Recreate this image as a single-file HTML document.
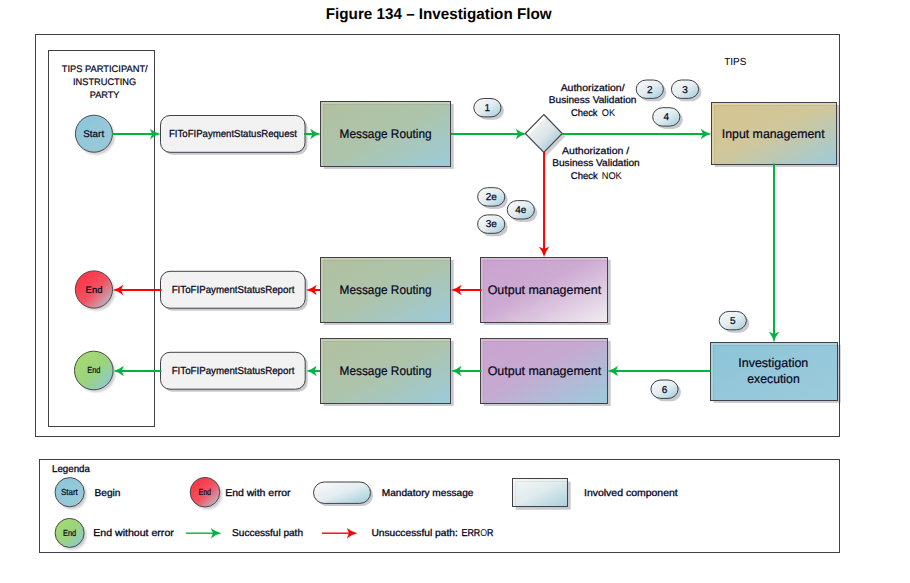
<!DOCTYPE html>
<html><head><meta charset="utf-8"><title>Figure 134 - Investigation Flow</title>
<style>
html,body{margin:0;padding:0;background:#fff;}
body{width:910px;height:583px;overflow:hidden;font-family:"Liberation Sans",sans-serif;}
svg{display:block;}
text{font-family:"Liberation Sans",sans-serif;text-rendering:geometricPrecision;}
</style></head><body>
<svg width="910" height="583" viewBox="0 0 910 583">
<rect width="910" height="583" fill="#ffffff"/>

<defs>
  <filter id="blur2" x="-20%" y="-20%" width="140%" height="140%"><feGaussianBlur stdDeviation="0.8"/></filter>
  <filter id="blur" x="-20%" y="-20%" width="140%" height="140%"><feGaussianBlur stdDeviation="0.55"/></filter>
  <linearGradient id="gRoute" x1="0" y1="0" x2="1" y2="1">
    <stop offset="0" stop-color="#b2c09e"/><stop offset="0.5" stop-color="#adc4ab"/><stop offset="1" stop-color="#9ccbdb"/>
  </linearGradient>
  <linearGradient id="gInput" x1="0" y1="0" x2="1" y2="1">
    <stop offset="0" stop-color="#d6c48e"/><stop offset="0.5" stop-color="#cfc79c"/><stop offset="1" stop-color="#9ccbdb"/>
  </linearGradient>
  <linearGradient id="gOut1" x1="0" y1="0" x2="1" y2="1">
    <stop offset="0" stop-color="#c9a3cf"/><stop offset="0.45" stop-color="#cdaad2"/><stop offset="1" stop-color="#f1ecf1"/>
  </linearGradient>
  <linearGradient id="gOut2" x1="0" y1="0" x2="1" y2="1">
    <stop offset="0" stop-color="#c9a3cf"/><stop offset="0.45" stop-color="#c6a9d1"/><stop offset="1" stop-color="#9ccbdb"/>
  </linearGradient>
  <linearGradient id="gInv" x1="0" y1="0" x2="1" y2="1">
    <stop offset="0" stop-color="#8cc4d8"/><stop offset="1" stop-color="#9ccbdb"/>
  </linearGradient>
  <linearGradient id="gStart" x1="0" y1="0" x2="1" y2="1">
    <stop offset="0" stop-color="#8cc5da"/><stop offset="1" stop-color="#9ccad8"/>
  </linearGradient>
  <linearGradient id="gRed" x1="0.15" y1="0.15" x2="0.85" y2="0.85">
    <stop offset="0" stop-color="#ff3446"/><stop offset="0.55" stop-color="#f25362"/><stop offset="1" stop-color="#c4a9b9"/>
  </linearGradient>
  <linearGradient id="gGreen" x1="0.15" y1="0.15" x2="0.85" y2="0.85">
    <stop offset="0" stop-color="#a5d971"/><stop offset="0.55" stop-color="#9bd37e"/><stop offset="1" stop-color="#8fcbc8"/>
  </linearGradient>
  <linearGradient id="gPill" x1="0" y1="0" x2="1" y2="1">
    <stop offset="0.1" stop-color="#f7f8f9"/><stop offset="0.5" stop-color="#e3edf0"/><stop offset="0.95" stop-color="#a4cfdb"/>
  </linearGradient>
  <linearGradient id="gLegRect" x1="0" y1="0" x2="1" y2="1">
    <stop offset="0" stop-color="#f4f6f7"/><stop offset="0.5" stop-color="#dfebee"/><stop offset="1" stop-color="#a9d0db"/>
  </linearGradient>
  <linearGradient id="gDiamond" x1="0" y1="0" x2="1" y2="1">
    <stop offset="0.25" stop-color="#f0f2f3"/><stop offset="0.55" stop-color="#dbe5e9"/><stop offset="0.8" stop-color="#aacbd7"/>
  </linearGradient>
  <clipPath id="dclip"><polygon points="543.8,115.7 561.1,133.5 543.8,151.3 526.5,133.5"/></clipPath>
</defs>

<rect x="35.5" y="34.5" width="804" height="402" fill="none" stroke="#404046" stroke-width="1"/>
<rect x="48.5" y="50.5" width="106" height="376" fill="#fff" stroke="#404046" stroke-width="1"/>
<rect x="39.5" y="459.5" width="800" height="93" fill="none" stroke="#404046" stroke-width="1"/>
<text x="438.7" y="19" font-size="15.5" text-anchor="middle" font-weight="bold" fill="#000" stroke="#000" stroke-width="0" font-family="'Liberation Sans', sans-serif" textLength="225.8" lengthAdjust="spacingAndGlyphs">Figure 134 – Investigation Flow</text>
<text x="104.7" y="71.8" font-size="9.5" text-anchor="middle" font-weight="normal" fill="#05051a" stroke="#05051a" stroke-width="0.22" font-family="'Liberation Sans', sans-serif" textLength="86" lengthAdjust="spacingAndGlyphs">TIPS PARTICIPANT/</text>
<text x="104.6" y="84.7" font-size="9.5" text-anchor="middle" font-weight="normal" fill="#05051a" stroke="#05051a" stroke-width="0.22" font-family="'Liberation Sans', sans-serif" textLength="63.1" lengthAdjust="spacingAndGlyphs">INSTRUCTING</text>
<text x="104.6" y="97.9" font-size="9.5" text-anchor="middle" font-weight="normal" fill="#05051a" stroke="#05051a" stroke-width="0.22" font-family="'Liberation Sans', sans-serif" textLength="29.8" lengthAdjust="spacingAndGlyphs">PARTY</text>
<text x="735.3" y="65.1" font-size="10.2" text-anchor="middle" font-weight="normal" fill="#05051a" stroke="#05051a" stroke-width="0.05" font-family="'Liberation Sans', sans-serif" textLength="22.2" lengthAdjust="spacingAndGlyphs">TIPS</text>
<circle cx="96.2" cy="136.2" r="18.5" fill="#cdcdd2" filter="url(#blur2)"/>
<circle cx="93.9" cy="133.7" r="18.5" fill="url(#gStart)" stroke="#4a4a4a" stroke-width="1"/>
<text x="93.7" y="137.2" font-size="9.6" text-anchor="middle" font-weight="normal" fill="#05051a" stroke="#05051a" stroke-width="0.22" font-family="'Liberation Sans', sans-serif" textLength="21" lengthAdjust="spacingAndGlyphs">Start</text>
<circle cx="96.2" cy="292.0" r="18.6" fill="#cdcdd2" filter="url(#blur2)"/>
<circle cx="93.9" cy="289.5" r="18.6" fill="url(#gRed)" stroke="#4a4a4a" stroke-width="1"/>
<text x="94" y="293" font-size="9.5" text-anchor="middle" font-weight="normal" fill="#05051a" stroke="#05051a" stroke-width="0.22" font-family="'Liberation Sans', sans-serif">End</text>
<circle cx="96.1" cy="373.0" r="19.3" fill="#cdcdd2" filter="url(#blur2)"/>
<circle cx="93.8" cy="370.5" r="19.3" fill="url(#gGreen)" stroke="#4a4a4a" stroke-width="1"/>
<text x="93.8" y="373.2" font-size="8.8" text-anchor="middle" font-weight="normal" fill="#05051a" stroke="#05051a" stroke-width="0.2" font-family="'Liberation Sans', sans-serif" textLength="13.2" lengthAdjust="spacingAndGlyphs">End</text>
<rect x="163.0" y="118.0" width="144.5" height="36.80000000000001" rx="9.5" ry="9.5" fill="#c8c8ce" filter="url(#blur)"/>
<rect x="160.5" y="115.5" width="144.5" height="36.80000000000001" rx="9.5" ry="9.5" fill="#f2f2f2" stroke="#404046" stroke-width="1"/>
<text x="233" y="137" font-size="10.2" text-anchor="middle" font-weight="normal" fill="#05051a" stroke="#05051a" stroke-width="0.25" font-family="'Liberation Sans', sans-serif" textLength="128" lengthAdjust="spacingAndGlyphs">FIToFIPaymentStatusRequest</text>
<rect x="163.0" y="273.8" width="144.7" height="36.89999999999998" rx="9.5" ry="9.5" fill="#c8c8ce" filter="url(#blur)"/>
<rect x="160.5" y="271.3" width="144.7" height="36.89999999999998" rx="9.5" ry="9.5" fill="#f2f2f2" stroke="#404046" stroke-width="1"/>
<text x="233" y="293.1" font-size="10.2" text-anchor="middle" font-weight="normal" fill="#05051a" stroke="#05051a" stroke-width="0.25" font-family="'Liberation Sans', sans-serif" textLength="122.7" lengthAdjust="spacingAndGlyphs">FIToFIPaymentStatusReport</text>
<rect x="163.0" y="354.8" width="144.7" height="36.89999999999998" rx="9.5" ry="9.5" fill="#c8c8ce" filter="url(#blur)"/>
<rect x="160.5" y="352.3" width="144.7" height="36.89999999999998" rx="9.5" ry="9.5" fill="#f2f2f2" stroke="#404046" stroke-width="1"/>
<text x="233" y="374.1" font-size="10.2" text-anchor="middle" font-weight="normal" fill="#05051a" stroke="#05051a" stroke-width="0.25" font-family="'Liberation Sans', sans-serif" textLength="122.7" lengthAdjust="spacingAndGlyphs">FIToFIPaymentStatusReport</text>
<rect x="323.7" y="103.9" width="130.0" height="65.0" fill="#c8c8ce" filter="url(#blur)"/>
<rect x="320.5" y="101.5" width="130.0" height="65.0" fill="url(#gRoute)" stroke="#404046" stroke-width="1"/>
<path d="M322.0 166.0 V103.0 H450.0" fill="none" stroke="#fffbe0" stroke-opacity="0.24" stroke-width="2"/>
<path d="M323.5 166.0 V104.5 H450.0" fill="none" stroke="#000000" stroke-opacity="0.05" stroke-width="1"/>
<text x="385.6" y="138" font-size="12.5" text-anchor="middle" font-weight="normal" fill="#05051a" stroke="#05051a" stroke-width="0.2" font-family="'Liberation Sans', sans-serif" textLength="92" lengthAdjust="spacingAndGlyphs">Message Routing</text>
<rect x="323.7" y="259.9" width="130.0" height="65.0" fill="#c8c8ce" filter="url(#blur)"/>
<rect x="320.5" y="257.5" width="130.0" height="65.0" fill="url(#gRoute)" stroke="#404046" stroke-width="1"/>
<path d="M322.0 322.0 V259.0 H450.0" fill="none" stroke="#fffbe0" stroke-opacity="0.24" stroke-width="2"/>
<path d="M323.5 322.0 V260.5 H450.0" fill="none" stroke="#000000" stroke-opacity="0.05" stroke-width="1"/>
<text x="385.6" y="294" font-size="12.5" text-anchor="middle" font-weight="normal" fill="#05051a" stroke="#05051a" stroke-width="0.2" font-family="'Liberation Sans', sans-serif" textLength="92" lengthAdjust="spacingAndGlyphs">Message Routing</text>
<rect x="323.7" y="340.9" width="130.0" height="65.0" fill="#c8c8ce" filter="url(#blur)"/>
<rect x="320.5" y="338.5" width="130.0" height="65.0" fill="url(#gRoute)" stroke="#404046" stroke-width="1"/>
<path d="M322.0 403.0 V340.0 H450.0" fill="none" stroke="#fffbe0" stroke-opacity="0.24" stroke-width="2"/>
<path d="M323.5 403.0 V341.5 H450.0" fill="none" stroke="#000000" stroke-opacity="0.05" stroke-width="1"/>
<text x="385.6" y="375" font-size="12.5" text-anchor="middle" font-weight="normal" fill="#05051a" stroke="#05051a" stroke-width="0.2" font-family="'Liberation Sans', sans-serif" textLength="92" lengthAdjust="spacingAndGlyphs">Message Routing</text>
<rect x="483.7" y="259.9" width="127.0" height="65.0" fill="#c8c8ce" filter="url(#blur)"/>
<rect x="480.5" y="257.5" width="127.0" height="65.0" fill="url(#gOut1)" stroke="#404046" stroke-width="1"/>
<path d="M482.0 322.0 V259.0 H607.0" fill="none" stroke="#fffbe0" stroke-opacity="0.24" stroke-width="2"/>
<path d="M483.5 322.0 V260.5 H607.0" fill="none" stroke="#000000" stroke-opacity="0.05" stroke-width="1"/>
<text x="544.4" y="294" font-size="12.5" text-anchor="middle" font-weight="normal" fill="#05051a" stroke="#05051a" stroke-width="0.2" font-family="'Liberation Sans', sans-serif" textLength="113.5" lengthAdjust="spacingAndGlyphs">Output management</text>
<rect x="483.7" y="340.9" width="127.0" height="65.0" fill="#c8c8ce" filter="url(#blur)"/>
<rect x="480.5" y="338.5" width="127.0" height="65.0" fill="url(#gOut2)" stroke="#404046" stroke-width="1"/>
<path d="M482.0 403.0 V340.0 H607.0" fill="none" stroke="#fffbe0" stroke-opacity="0.24" stroke-width="2"/>
<path d="M483.5 403.0 V341.5 H607.0" fill="none" stroke="#000000" stroke-opacity="0.05" stroke-width="1"/>
<text x="544.4" y="374.7" font-size="12.5" text-anchor="middle" font-weight="normal" fill="#05051a" stroke="#05051a" stroke-width="0.2" font-family="'Liberation Sans', sans-serif" textLength="113.5" lengthAdjust="spacingAndGlyphs">Output management</text>
<rect x="714.7" y="104.9" width="125.0" height="62.0" fill="#c8c8ce" filter="url(#blur)"/>
<rect x="711.5" y="102.5" width="125.0" height="62.0" fill="url(#gInput)" stroke="#404046" stroke-width="1"/>
<path d="M713.0 164.0 V104.0 H836.0" fill="none" stroke="#fffbe0" stroke-opacity="0.24" stroke-width="2"/>
<path d="M714.5 164.0 V105.5 H836.0" fill="none" stroke="#000000" stroke-opacity="0.05" stroke-width="1"/>
<text x="773.2" y="137.8" font-size="12.5" text-anchor="middle" font-weight="normal" fill="#05051a" stroke="#05051a" stroke-width="0.2" font-family="'Liberation Sans', sans-serif" textLength="102.9" lengthAdjust="spacingAndGlyphs">Input management</text>
<rect x="713.7" y="344.9" width="127.0" height="58.0" fill="#c8c8ce" filter="url(#blur)"/>
<rect x="710.5" y="342.5" width="127.0" height="58.0" fill="url(#gInv)" stroke="#404046" stroke-width="1"/>
<path d="M712.0 400.0 V344.0 H837.0" fill="none" stroke="#fffbe0" stroke-opacity="0.24" stroke-width="2"/>
<path d="M713.5 400.0 V345.5 H837.0" fill="none" stroke="#000000" stroke-opacity="0.05" stroke-width="1"/>
<text x="773.3" y="366.6" font-size="12.5" text-anchor="middle" font-weight="normal" fill="#05051a" stroke="#05051a" stroke-width="0.2" font-family="'Liberation Sans', sans-serif" textLength="70" lengthAdjust="spacingAndGlyphs">Investigation</text>
<text x="773.5" y="382.7" font-size="12.5" text-anchor="middle" font-weight="normal" fill="#05051a" stroke="#05051a" stroke-width="0.2" font-family="'Liberation Sans', sans-serif" textLength="52.4" lengthAdjust="spacingAndGlyphs">execution</text>
<polygon points="546.8,117.5 565.3,136.5 546.8,155.5 528.3,136.5" fill="#cfcfd3" filter="url(#blur)"/>
<polygon points="543.8,114.5 562.3,133.5 543.8,152.5 525.3,133.5" fill="url(#gDiamond)" stroke="#4a4a52" stroke-width="1.2" stroke-linejoin="miter"/>
<polyline points="527.9,134.1 544.4,117.1" fill="none" stroke="#ffffff" stroke-opacity="0.85" stroke-width="2.8" clip-path="url(#dclip)"/>
<text x="592.6" y="91.0" font-size="9.8" text-anchor="middle" font-weight="normal" fill="#05051a" stroke="#05051a" stroke-width="0.25" font-family="'Liberation Sans', sans-serif" textLength="63.9" lengthAdjust="spacingAndGlyphs">Authorization/</text>
<text x="592.6" y="103.4" font-size="9.8" text-anchor="middle" font-weight="normal" fill="#05051a" stroke="#05051a" stroke-width="0.25" font-family="'Liberation Sans', sans-serif" textLength="87.7" lengthAdjust="spacingAndGlyphs">Business Validation</text>
<text x="570.9" y="115.8" font-size="9.8" text-anchor="start" font-weight="normal" fill="#05051a" stroke="#05051a" stroke-width="0.25" font-family="'Liberation Sans', sans-serif" textLength="26.7" lengthAdjust="spacingAndGlyphs">Check</text>
<text x="601.8" y="115.8" font-size="9.8" text-anchor="start" font-weight="normal" fill="#0e0e24" stroke="#0e0e24" stroke-width="0.08" font-family="'Liberation Sans', sans-serif" textLength="13.3" lengthAdjust="spacingAndGlyphs">OK</text>
<text x="595.6" y="153.7" font-size="9.8" text-anchor="middle" font-weight="normal" fill="#05051a" stroke="#05051a" stroke-width="0.25" font-family="'Liberation Sans', sans-serif" textLength="67.1" lengthAdjust="spacingAndGlyphs">Authorization /</text>
<text x="596" y="166.0" font-size="9.8" text-anchor="middle" font-weight="normal" fill="#05051a" stroke="#05051a" stroke-width="0.25" font-family="'Liberation Sans', sans-serif" textLength="87.5" lengthAdjust="spacingAndGlyphs">Business Validation</text>
<text x="570.8" y="178.5" font-size="9.8" text-anchor="start" font-weight="normal" fill="#05051a" stroke="#05051a" stroke-width="0.25" font-family="'Liberation Sans', sans-serif" textLength="27" lengthAdjust="spacingAndGlyphs">Check</text>
<text x="601.7" y="178.5" font-size="9.8" text-anchor="start" font-weight="normal" fill="#0e0e24" stroke="#0e0e24" stroke-width="0.08" font-family="'Liberation Sans', sans-serif" textLength="20.1" lengthAdjust="spacingAndGlyphs">NOK</text>
<rect x="476.69999999999993" y="101.4" width="27.2" height="18.4" rx="10" ry="9.2" fill="#c8c8ce" filter="url(#blur)"/>
<rect x="473.79999999999995" y="98.5" width="27.2" height="18.4" rx="10" ry="9.2" fill="url(#gPill)" stroke="#404046" stroke-width="1"/>
<text x="487.4" y="111.0" font-size="10" text-anchor="middle" font-weight="normal" fill="#05051a" stroke="#05051a" stroke-width="0.25" font-family="'Liberation Sans', sans-serif">1</text>
<rect x="639.0999999999999" y="82.9" width="27.2" height="18.4" rx="10" ry="9.2" fill="#c8c8ce" filter="url(#blur)"/>
<rect x="636.1999999999999" y="80.0" width="27.2" height="18.4" rx="10" ry="9.2" fill="url(#gPill)" stroke="#404046" stroke-width="1"/>
<text x="649.8" y="92.5" font-size="10" text-anchor="middle" font-weight="normal" fill="#05051a" stroke="#05051a" stroke-width="0.25" font-family="'Liberation Sans', sans-serif">2</text>
<rect x="674.3" y="82.9" width="27.2" height="18.4" rx="10" ry="9.2" fill="#c8c8ce" filter="url(#blur)"/>
<rect x="671.4" y="80.0" width="27.2" height="18.4" rx="10" ry="9.2" fill="url(#gPill)" stroke="#404046" stroke-width="1"/>
<text x="685" y="92.5" font-size="10" text-anchor="middle" font-weight="normal" fill="#05051a" stroke="#05051a" stroke-width="0.25" font-family="'Liberation Sans', sans-serif">3</text>
<rect x="655.5999999999999" y="110.60000000000001" width="27.2" height="18.4" rx="10" ry="9.2" fill="#c8c8ce" filter="url(#blur)"/>
<rect x="652.6999999999999" y="107.7" width="27.2" height="18.4" rx="10" ry="9.2" fill="url(#gPill)" stroke="#404046" stroke-width="1"/>
<text x="666.3" y="120.2" font-size="10" text-anchor="middle" font-weight="normal" fill="#05051a" stroke="#05051a" stroke-width="0.25" font-family="'Liberation Sans', sans-serif">4</text>
<rect x="480.49999999999994" y="190.60000000000002" width="27.2" height="18.4" rx="10" ry="9.2" fill="#c8c8ce" filter="url(#blur)"/>
<rect x="477.59999999999997" y="187.70000000000002" width="27.2" height="18.4" rx="10" ry="9.2" fill="url(#gPill)" stroke="#404046" stroke-width="1"/>
<text x="491.2" y="200.20000000000002" font-size="10" text-anchor="middle" font-weight="normal" fill="#05051a" stroke="#05051a" stroke-width="0.25" font-family="'Liberation Sans', sans-serif">2e</text>
<rect x="510.0999999999999" y="203.50000000000003" width="27.2" height="18.4" rx="10" ry="9.2" fill="#c8c8ce" filter="url(#blur)"/>
<rect x="507.19999999999993" y="200.60000000000002" width="27.2" height="18.4" rx="10" ry="9.2" fill="url(#gPill)" stroke="#404046" stroke-width="1"/>
<text x="520.8" y="213.10000000000002" font-size="10" text-anchor="middle" font-weight="normal" fill="#05051a" stroke="#05051a" stroke-width="0.25" font-family="'Liberation Sans', sans-serif">4e</text>
<rect x="480.49999999999994" y="217.8" width="27.2" height="18.4" rx="10" ry="9.2" fill="#c8c8ce" filter="url(#blur)"/>
<rect x="477.59999999999997" y="214.9" width="27.2" height="18.4" rx="10" ry="9.2" fill="url(#gPill)" stroke="#404046" stroke-width="1"/>
<text x="491.2" y="227.4" font-size="10" text-anchor="middle" font-weight="normal" fill="#05051a" stroke="#05051a" stroke-width="0.25" font-family="'Liberation Sans', sans-serif">3e</text>
<rect x="722.0999999999999" y="314.3" width="27.2" height="18.4" rx="10" ry="9.2" fill="#c8c8ce" filter="url(#blur)"/>
<rect x="719.1999999999999" y="311.40000000000003" width="27.2" height="18.4" rx="10" ry="9.2" fill="url(#gPill)" stroke="#404046" stroke-width="1"/>
<text x="732.8" y="323.90000000000003" font-size="10" text-anchor="middle" font-weight="normal" fill="#05051a" stroke="#05051a" stroke-width="0.25" font-family="'Liberation Sans', sans-serif">5</text>
<rect x="653.8" y="382.9" width="27.2" height="18.4" rx="10" ry="9.2" fill="#c8c8ce" filter="url(#blur)"/>
<rect x="650.9" y="380.0" width="27.2" height="18.4" rx="10" ry="9.2" fill="url(#gPill)" stroke="#404046" stroke-width="1"/>
<text x="664.5" y="392.5" font-size="10" text-anchor="middle" font-weight="normal" fill="#05051a" stroke="#05051a" stroke-width="0.25" font-family="'Liberation Sans', sans-serif">6</text>
<rect x="35.5" y="34.5" width="804" height="402" fill="none" stroke="#404046" stroke-width="1"/>
<line x1="112" y1="134" x2="152.70" y2="134.00" stroke="#03b342" stroke-width="2"/>
<path d="M160.60 134.00 Q155.10 135.04 150.00 139.20 L152.20 134.00 L150.00 128.80 Q155.10 132.96 160.60 134.00 Z" fill="#03b342"/>
<line x1="304" y1="134" x2="312.90" y2="134.00" stroke="#03b342" stroke-width="2"/>
<path d="M320.80 134.00 Q315.30 135.04 310.20 139.20 L312.40 134.00 L310.20 128.80 Q315.30 132.96 320.80 134.00 Z" fill="#03b342"/>
<line x1="451" y1="134" x2="518.50" y2="134.00" stroke="#03b342" stroke-width="2"/>
<path d="M526.40 134.00 Q520.90 135.04 515.80 139.20 L518.00 134.00 L515.80 128.80 Q520.90 132.96 526.40 134.00 Z" fill="#03b342"/>
<line x1="562" y1="134" x2="703.50" y2="134.00" stroke="#03b342" stroke-width="2"/>
<path d="M711.40 134.00 Q705.90 135.04 700.80 139.20 L703.00 134.00 L700.80 128.80 Q705.90 132.96 711.40 134.00 Z" fill="#03b342"/>
<line x1="774" y1="163.5" x2="774.00" y2="334.50" stroke="#03b342" stroke-width="2"/>
<path d="M774.00 342.40 Q772.96 336.90 768.80 331.80 L774.00 334.00 L779.20 331.80 Q775.04 336.90 774.00 342.40 Z" fill="#03b342"/>
<line x1="710.5" y1="371" x2="615.30" y2="371.00" stroke="#03b342" stroke-width="2"/>
<path d="M607.40 371.00 Q612.90 369.96 618.00 365.80 L615.80 371.00 L618.00 376.20 Q612.90 372.04 607.40 371.00 Z" fill="#03b342"/>
<line x1="481.5" y1="371" x2="458.80" y2="371.00" stroke="#03b342" stroke-width="2"/>
<path d="M450.90 371.00 Q456.40 369.96 461.50 365.80 L459.30 371.00 L461.50 376.20 Q456.40 372.04 450.90 371.00 Z" fill="#03b342"/>
<line x1="320" y1="371" x2="314.00" y2="371.00" stroke="#03b342" stroke-width="2"/>
<path d="M306.10 371.00 Q311.60 369.96 316.70 365.80 L314.50 371.00 L316.70 376.20 Q311.60 372.04 306.10 371.00 Z" fill="#03b342"/>
<line x1="161.5" y1="371" x2="121.10" y2="371.00" stroke="#03b342" stroke-width="2"/>
<path d="M113.20 371.00 Q118.70 369.96 123.80 365.80 L121.60 371.00 L123.80 376.20 Q118.70 372.04 113.20 371.00 Z" fill="#03b342"/>
<line x1="544.05" y1="152" x2="544.05" y2="249.50" stroke="#ff0000" stroke-width="2"/>
<path d="M544.05 257.40 Q543.01 251.90 538.85 246.80 L544.05 249.00 L549.25 246.80 Q545.09 251.90 544.05 257.40 Z" fill="#ff0000"/>
<line x1="481.5" y1="290" x2="458.80" y2="290.00" stroke="#ff0000" stroke-width="2"/>
<path d="M450.90 290.00 Q456.40 288.96 461.50 284.80 L459.30 290.00 L461.50 295.20 Q456.40 291.04 450.90 290.00 Z" fill="#ff0000"/>
<line x1="320" y1="290" x2="314.00" y2="290.00" stroke="#ff0000" stroke-width="2"/>
<path d="M306.10 290.00 Q311.60 288.96 316.70 284.80 L314.50 290.00 L316.70 295.20 Q311.60 291.04 306.10 290.00 Z" fill="#ff0000"/>
<line x1="161.5" y1="290" x2="120.60" y2="290.00" stroke="#ff0000" stroke-width="2"/>
<path d="M112.70 290.00 Q118.20 288.96 123.30 284.80 L121.10 290.00 L123.30 295.20 Q118.20 291.04 112.70 290.00 Z" fill="#ff0000"/>
<text x="52.0" y="471.9" font-size="9.9" text-anchor="start" font-weight="normal" fill="#05051a" stroke="#05051a" stroke-width="0.3" font-family="'Liberation Sans', sans-serif" textLength="37.9" lengthAdjust="spacingAndGlyphs">Legenda</text>
<circle cx="72.0" cy="494.59999999999997" r="14.6" fill="#cdcdd2" filter="url(#blur2)"/>
<circle cx="69.6" cy="492.2" r="14.6" fill="url(#gStart)" stroke="#4a4a4a" stroke-width="1"/>
<text x="69.4" y="495.1" font-size="8.8" text-anchor="middle" font-weight="normal" fill="#05051a" stroke="#05051a" stroke-width="0.2" font-family="'Liberation Sans', sans-serif" textLength="16.8" lengthAdjust="spacingAndGlyphs">Start</text>
<text x="94.5" y="496.0" font-size="9.9" text-anchor="start" font-weight="normal" fill="#05051a" stroke="#05051a" stroke-width="0.3" font-family="'Liberation Sans', sans-serif" textLength="26" lengthAdjust="spacingAndGlyphs">Begin</text>
<circle cx="207.4" cy="494.59999999999997" r="14.8" fill="#cdcdd2" filter="url(#blur2)"/>
<circle cx="205" cy="492.2" r="14.8" fill="url(#gRed)" stroke="#4a4a4a" stroke-width="1"/>
<text x="204.8" y="495.1" font-size="8.8" text-anchor="middle" font-weight="normal" fill="#05051a" stroke="#05051a" stroke-width="0.2" font-family="'Liberation Sans', sans-serif" textLength="12.4" lengthAdjust="spacingAndGlyphs">End</text>
<text x="225.2" y="496.0" font-size="9.9" text-anchor="start" font-weight="normal" fill="#05051a" stroke="#05051a" stroke-width="0.3" font-family="'Liberation Sans', sans-serif" textLength="65.3" lengthAdjust="spacingAndGlyphs">End with error</text>
<rect x="316.0" y="484.5" width="57.0" height="21.399999999999977" rx="10.7" ry="10.7" fill="#c8c8ce" filter="url(#blur)"/>
<rect x="313.5" y="482" width="57.0" height="21.399999999999977" rx="10.7" ry="10.7" fill="url(#gPill)" stroke="#404046" stroke-width="1"/>
<text x="381.8" y="496.0" font-size="9.9" text-anchor="start" font-weight="normal" fill="#05051a" stroke="#05051a" stroke-width="0.3" font-family="'Liberation Sans', sans-serif" textLength="91.6" lengthAdjust="spacingAndGlyphs">Mandatory message</text>
<rect x="515.7" y="481.7" width="55.0" height="28.0" fill="#c8c8ce" filter="url(#blur)"/>
<rect x="512.5" y="478.5" width="55.0" height="28.0" fill="url(#gLegRect)" stroke="#404046" stroke-width="1"/>
<path d="M514.0 506.0 V480.0 H567.0" fill="none" stroke="#fffbe0" stroke-opacity="0.24" stroke-width="2"/>
<path d="M515.5 506.0 V481.5 H567.0" fill="none" stroke="#000000" stroke-opacity="0.05" stroke-width="1"/>
<text x="584" y="496.0" font-size="9.9" text-anchor="start" font-weight="normal" fill="#05051a" stroke="#05051a" stroke-width="0.3" font-family="'Liberation Sans', sans-serif" textLength="93.7" lengthAdjust="spacingAndGlyphs">Involved component</text>
<circle cx="72.0" cy="535.3" r="14.5" fill="#cdcdd2" filter="url(#blur2)"/>
<circle cx="69.6" cy="532.9" r="14.5" fill="url(#gGreen)" stroke="#4a4a4a" stroke-width="1"/>
<text x="69.6" y="535.9" font-size="8.8" text-anchor="middle" font-weight="normal" fill="#05051a" stroke="#05051a" stroke-width="0.2" font-family="'Liberation Sans', sans-serif" textLength="13.2" lengthAdjust="spacingAndGlyphs">End</text>
<text x="93.3" y="536.0" font-size="9.9" text-anchor="start" font-weight="normal" fill="#05051a" stroke="#05051a" stroke-width="0.3" font-family="'Liberation Sans', sans-serif" textLength="80.5" lengthAdjust="spacingAndGlyphs">End without error</text>
<line x1="185.8" y1="533.2" x2="213.50" y2="533.20" stroke="#03b342" stroke-width="1.4"/>
<path d="M221.40 533.20 Q215.90 534.24 210.80 538.40 L213.00 533.20 L210.80 528.00 Q215.90 532.16 221.40 533.20 Z" fill="#03b342"/>
<text x="232.1" y="536.0" font-size="9.9" text-anchor="start" font-weight="normal" fill="#05051a" stroke="#05051a" stroke-width="0.3" font-family="'Liberation Sans', sans-serif" textLength="70.9" lengthAdjust="spacingAndGlyphs">Successful path</text>
<line x1="322" y1="533.2" x2="349.50" y2="533.20" stroke="#ff0000" stroke-width="1.4"/>
<path d="M357.40 533.20 Q351.90 534.24 346.80 538.40 L349.00 533.20 L346.80 528.00 Q351.90 532.16 357.40 533.20 Z" fill="#ff0000"/>
<text x="371.4" y="536.0" font-size="9.9" text-anchor="start" font-weight="normal" fill="#05051a" stroke="#05051a" stroke-width="0.3" font-family="'Liberation Sans', sans-serif" textLength="86.4" lengthAdjust="spacingAndGlyphs">Unsuccessful path:</text>
<text x="461.5" y="536.0" font-size="9.9" text-anchor="start" font-weight="normal" fill="#05051a" stroke="#05051a" stroke-width="0.3" font-family="'Liberation Sans', sans-serif" textLength="31.9" lengthAdjust="spacingAndGlyphs">ERR<tspan stroke-width="0" fill="#1a1a30">O</tspan>R</text>
</svg>
</body></html>
